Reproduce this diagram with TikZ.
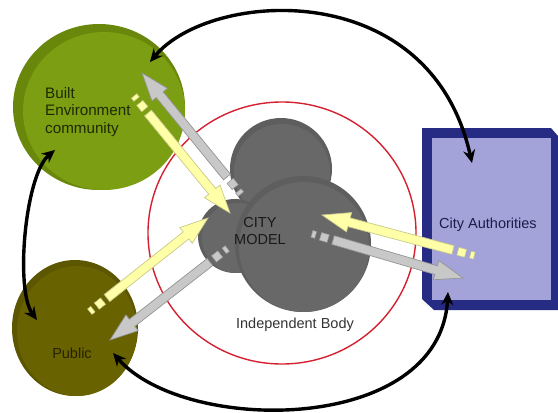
\documentclass[tikz,border=0pt]{standalone}
\usepackage{fontspec}
\setmainfont{Liberation Sans}
\usetikzlibrary{calc,arrows.meta}
\definecolor{befill}{HTML}{7C9E12}
\definecolor{berim}{HTML}{68870B}
\definecolor{betext}{HTML}{1E2A00}
\definecolor{pubfill}{HTML}{696200}
\definecolor{pubrim}{HTML}{5C5600}
\definecolor{pubtext}{HTML}{262300}
\definecolor{caouter}{HTML}{262B84}
\definecolor{cainner}{HTML}{A3A3DA}
\definecolor{catext}{HTML}{1C1C4A}
\definecolor{cmfill}{HTML}{686868}
\definecolor{cmrim}{HTML}{5E5E5E}
\definecolor{ringred}{HTML}{D42030}
\definecolor{yelfill}{HTML}{FFFFA8}
\definecolor{yeldraw}{HTML}{C9C98A}
\definecolor{gryfill}{HTML}{C8C8C8}
\definecolor{grydraw}{HTML}{949494}
\tikzset{
  lbl/.style={font=\fontsize{14.5}{17.5}\selectfont, inner sep=0pt},
  yelarrow/.style={fill=yelfill, draw=yeldraw, line width=0.7pt, line join=miter},
  gryarrow/.style={fill=gryfill, draw=grydraw, line width=0.7pt, line join=miter},
  yelsq/.style={fill=yelfill, draw=yeldraw, line width=0.5pt, inner sep=0pt, shape=rectangle},
  grysq/.style={fill=gryfill, draw=grydraw, line width=0.5pt, inner sep=0pt, shape=rectangle},
  bigarc/.style={line width=3.4pt, black, {Stealth[length=13pt,width=12pt]}-{Stealth[length=13pt,width=12pt]}},
}
% #1 style prefix, #2 tail coordinate, #3 tip coordinate
\newcommand\blockarrow[3]{%
  \coordinate (#2h) at ($(#3)!28pt!(#2)$);
  \filldraw[#1arrow] ($(#2)!4.5pt!90:(#3)$) -- ($(#2h)!4.5pt!90:(#3)$) -- ($(#2h)!10pt!90:(#3)$)
     -- (#3) -- ($(#2h)!10pt!-90:(#3)$) -- ($(#2h)!4.5pt!-90:(#3)$) -- ($(#2)!4.5pt!-90:(#3)$) -- cycle;
  \path let \p1=($(#3)-(#2)$), \n1={atan2(\y1,\x1)} in
    node[#1sq, rotate=\n1, minimum width=8pt, minimum height=8pt] (#2s1) at ($(#2)!-9pt!(#3)$) {}
    node[#1sq, rotate=\n1, minimum width=4pt, minimum height=7pt] (#2s2) at ($(#2)!-20pt!(#3)$) {};
}
\begin{document}
\begin{tikzpicture}[x=1pt,y=-1pt]
\useasboundingbox (0,0) rectangle (558,413);
% Built Environment community
\fill[berim] (99,107) ellipse [x radius=86, y radius=83];
\fill[befill] (104,111) ellipse [x radius=81, y radius=79];
\node[lbl, font=\fontsize{15.2}{17.5}\selectfont, anchor=west, align=left, text=betext] (be) at (45,112) {Built\\Environment\\community};
% Public
\fill[pubrim] (75,328) ellipse [x radius=63, y radius=68];
\fill[pubfill] (77,331) ellipse [x radius=60, y radius=65];
\node[lbl, text=pubtext] (pub) at (72,353) {Public};
% City Authorities
\fill[caouter] (422,128) -- (551,128) -- (558,136) -- (558,310) -- (434,310) -- (422,299) -- cycle;
\fill[cainner] (432,138) rectangle (551,300);
\node[lbl, text=catext] (ca) at (488,225) {City Authorities};
% Independent body ring
\draw[ringred, line width=1.4pt] (282,233) ellipse [x radius=134, y radius=131];
\node[lbl, text=black!80] (ib) at (295,325) {Independent Body};
% City model cloud
\fill[cmrim] (281,169) circle [radius=51];
\fill[cmfill] (282,172) circle [radius=48];
\fill[cmrim] (235,236) circle [radius=37];
\fill[cmfill] (237,238) circle [radius=35];
\fill[cmrim] (303,244) circle [radius=68];
\fill[cmfill] (304,247) circle [radius=65];
\node[lbl, align=center, text=black!90] (cm) at (260,231) {CITY\\MODEL};
% big black arcs
\coordinate (arcA) at (150,62);
\coordinate (arcB) at (472,163);
\coordinate (arcC) at (55,150);
\coordinate (arcD) at (37,320);
\coordinate (arcE) at (113,353);
\coordinate (arcF) at (448,292);
\draw[bigarc] (arcA) .. controls (210,-10) and (430,-25) .. (arcB);
\draw[bigarc] (arcC) .. controls (25,175) and (15,290) .. (arcD);
\draw[bigarc] (arcE) .. controls (185,435) and (440,435) .. (arcF);
% block arrows
\coordinate (ya) at (148,113); \coordinate (yb) at (230,213);
\coordinate (ga) at (227,177); \coordinate (gb) at (142,73);
\coordinate (yc) at (107,298); \coordinate (yd) at (208,218);
\coordinate (gc) at (210,262); \coordinate (gd) at (110,340);
\coordinate (ye) at (453,250); \coordinate (yf) at (322,215);
\coordinate (ge) at (333,240); \coordinate (gf) at (463,278);
\blockarrow{gry}{ga}{gb}
\blockarrow{yel}{ya}{yb}
\blockarrow{yel}{yc}{yd}
\blockarrow{gry}{gc}{gd}
\blockarrow{yel}{ye}{yf}
\blockarrow{gry}{ge}{gf}
\end{tikzpicture}
\end{document}
